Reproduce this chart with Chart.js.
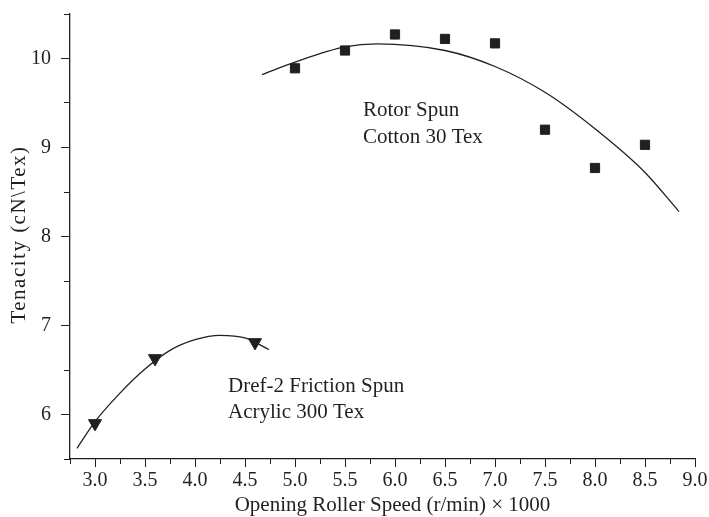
<!DOCTYPE html>
<html>
<head>
<meta charset="utf-8">
<script src="https://cdn.jsdelivr.net/npm/chart.js@4"></script>
<style>
  html, body { margin: 0; padding: 0; background: #fff; }
  #wrap { width: 709px; height: 517px; position: relative; }
</style>
</head>
<body>
<div id="wrap"><canvas id="chart"></canvas></div>
<script>
// measured points
const rotorX = [5.0, 5.5, 6.0, 6.5, 7.0, 7.5, 8.0, 8.5];
const rotorY = [9.89, 10.09, 10.27, 10.22, 10.17, 9.20, 8.77, 9.03];
const drefX = [3.0, 3.6, 4.6];
const drefY = [5.90, 6.63, 6.81];

// fitted curves
const rotorFitX = [4.67, 5.0, 5.5, 5.82, 6.5, 7.0, 7.5, 8.0, 8.5, 8.84];
const rotorFitY = [9.82, 9.96, 10.13, 10.165, 10.09, 9.91, 9.62, 9.21, 8.72, 8.28];
const drefFitX = [2.82, 3.0, 3.25, 3.5, 3.75, 4.0, 4.25, 4.5, 4.74];
const drefFitY = [5.62, 5.92, 6.24, 6.51, 6.72, 6.84, 6.89, 6.86, 6.73];

const xMajorTicks = [3.0, 3.5, 4.0, 4.5, 5.0, 5.5, 6.0, 6.5, 7.0, 7.5, 8.0, 8.5, 9.0];
const yMajorTicks = [6, 7, 8, 9, 10];

const xTitle = 'Opening Roller Speed (r/min) \u00d7 1000';
const yTitle = 'Tenacity (cN\\Tex)';

const ink = '#231f20';
const serif = '"Liberation Serif", "Times New Roman", serif';

const toXY = (xs, ys) => xs.map((x, i) => ({ x: x, y: ys[i] }));
const onStep = (v, step) => Math.abs(v / step - Math.round(v / step)) < 1e-6;

// text labels placed in data units
const notes = [
    { text: 'Rotor Spun', x: 5.68, y: 9.42 },
    { text: 'Cotton 30 Tex', x: 5.68, y: 9.11 },
    { text: 'Dref-2 Friction Spun', x: 4.33, y: 6.31 },
    { text: 'Acrylic 300 Tex', x: 4.33, y: 6.02 }
];

const textPlugin = {
    id: 'texts',
    afterDatasetsDraw(chart) {
        const ctx = chart.ctx;
        const xs = chart.scales.x, ys = chart.scales.y;
        ctx.save();
        ctx.fillStyle = ink;
        ctx.font = '21px ' + serif;
        ctx.textAlign = 'left';
        ctx.textBaseline = 'middle';
        notes.forEach(n => {
            ctx.fillText(n.text, xs.getPixelForValue(n.x), ys.getPixelForValue(n.y));
        });

        // axis titles
        ctx.textAlign = 'center';
        ctx.textBaseline = 'alphabetic';
        ctx.fillText(xTitle, (xs.left + xs.right) / 2 + 10, 511);

        ctx.translate(19, (ys.top + ys.bottom) / 2 - 2);
        ctx.rotate(-Math.PI / 2);
        ctx.textBaseline = 'middle';
        ctx.letterSpacing = '1.5px';
        ctx.fillText(yTitle, 0, 0);
        ctx.restore();
    }
};

const ctx = document.getElementById('chart').getContext('2d');
new Chart(ctx, {
    type: 'scatter',
    data: {
        datasets: [{
            data: toXY(rotorFitX, rotorFitY),
            showLine: true,
            borderColor: ink,
            borderWidth: 1.3,
            pointRadius: 0,
            cubicInterpolationMode: 'monotone'
        }, {
            data: toXY(drefFitX, drefFitY),
            showLine: true,
            borderColor: ink,
            borderWidth: 1.3,
            pointRadius: 0,
            cubicInterpolationMode: 'monotone'
        }, {
            data: toXY(rotorX, rotorY),
            pointStyle: 'rect',
            pointRadius: 6.5,
            backgroundColor: ink,
            borderColor: ink,
            borderWidth: 1
        }, {
            data: toXY(drefX, drefY),
            pointStyle: 'triangle',
            rotation: 180,
            pointRadius: 7.5,
            backgroundColor: ink,
            borderColor: ink,
            borderWidth: 1
        }]
    },
    options: {
        responsive: true,
        maintainAspectRatio: false,
        animation: false,
        layout: { padding: { top: 14, right: 14, left: 0, bottom: 0 } },
        plugins: {
            legend: { display: false },
            tooltip: { enabled: false }
        },
        scales: {
            xMinor: {
                type: 'linear',
                position: 'bottom',
                weight: 0,
                min: 2.75,
                max: 9.0,
                afterBuildTicks: s => { s.ticks = s.ticks.filter(t => onStep(t.value, 0.25)); },
                afterFit: s => { s.height = 0; s.paddingLeft = 0; s.paddingRight = 0; },
                ticks: { display: false, stepSize: 0.25 },
                grid: { drawOnChartArea: false, tickLength: 5, color: ink, tickWidth: 1 },
                border: { display: false }
            },
            x: {
                type: 'linear',
                position: 'bottom',
                weight: 1,
                min: 2.75,
                max: 9.0,
                afterBuildTicks: s => { s.ticks = xMajorTicks.map(v => ({ value: v })); },
                afterFit: s => { s.height = 58; s.paddingLeft = 0; s.paddingRight = 0; },
                ticks: {
                    color: ink,
                    padding: 2,
                    maxRotation: 0,
                    font: { family: serif, size: 20 },
                    callback: v => v.toFixed(1)
                },
                grid: { drawOnChartArea: false, tickLength: 8, color: ink, tickWidth: 1 },
                border: { display: true, color: ink, width: 1.3 }
            },
            yMinor: {
                type: 'linear',
                position: 'left',
                weight: 0,
                min: 5.5,
                max: 10.5,
                afterBuildTicks: s => { s.ticks = s.ticks.filter(t => onStep(t.value, 0.5)); },
                afterFit: s => { s.width = 0; s.paddingTop = 0; s.paddingBottom = 0; },
                ticks: { display: false, stepSize: 0.5 },
                grid: { drawOnChartArea: false, tickLength: 6, color: ink, tickWidth: 1 },
                border: { display: false }
            },
            y: {
                type: 'linear',
                position: 'left',
                weight: 1,
                min: 5.5,
                max: 10.5,
                afterBuildTicks: s => { s.ticks = yMajorTicks.map(v => ({ value: v })); },
                afterFit: s => { s.width = 70; s.paddingTop = 0; s.paddingBottom = 0; },
                ticks: {
                    color: ink,
                    padding: 10,
                    font: { family: serif, size: 20 },
                    callback: v => String(v)
                },
                grid: { drawOnChartArea: false, tickLength: 9, color: ink, tickWidth: 1 },
                border: { display: true, color: ink, width: 1.3 }
            }
        }
    },
    plugins: [textPlugin]
});
</script>
</body>
</html>
